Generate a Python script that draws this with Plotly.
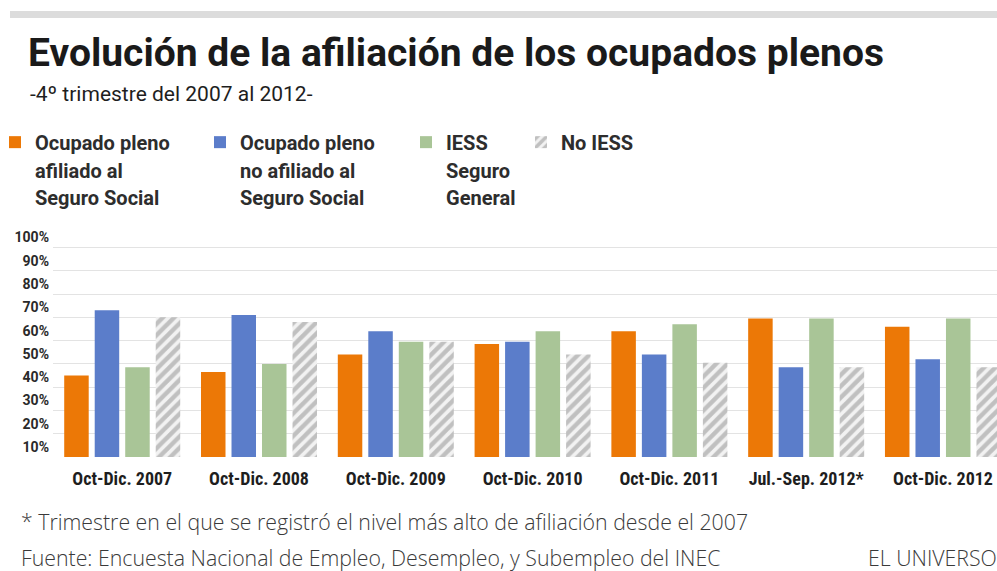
import plotly.graph_objects as go

# ---- data -------------------------------------------------------------
periodos = ["Oct-Dic. 2007", "Oct-Dic. 2008", "Oct-Dic. 2009", "Oct-Dic. 2010",
            "Oct-Dic. 2011", "Jul.-Sep. 2012*", "Oct-Dic. 2012"]
afiliado_ss = [45.0, 46.5, 54.0, 58.5, 64.0, 69.5, 66.0]
no_afiliado_ss = [73.0, 71.0, 64.0, 59.5, 54.0, 48.5, 52.0]
iess_general = [48.5, 50.0, 59.5, 64.0, 67.0, 69.5, 69.5]
no_iess = [70.0, 68.0, 59.5, 54.0, 50.5, 48.5, 48.5]

y_ticks = [10, 20, 30, 40, 50, 60, 70, 80, 90, 100]
y_tick_labels = [f"{v}%" for v in y_ticks]

serie_nombres = [
    ["Ocupado pleno", "afiliado al", "Seguro Social"],
    ["Ocupado pleno", "no afiliado al", "Seguro Social"],
    ["IESS", "Seguro", "General"],
    ["No IESS"],
]

# ---- styling ----------------------------------------------------------
W, H = 997, 571
ML, MR, MT, MB = 53, 0, 235, 114
PW, PH = W - ML - MR, H - MT - MB

SANS = "Roboto, Liberation Sans, sans-serif"
COND = "Roboto Condensed, Liberation Sans Narrow, Roboto, sans-serif"
TEXT = "Open Sans, Lato, sans-serif"
NARANJA, AZUL, VERDE, GRIS = "#EC7806", "#5B7DCA", "#A9C597", "#8E8E8E"


def px_x(x):
    return (x - ML) / PW


def px_y(y):
    return (H - MB - y) / PH


def nombre(lineas):
    return "<br>".join(f'<span style="font-size:20px">{t}</span>' for t in lineas)


fig = go.Figure()
series = [
    (afiliado_ss, dict(color=NARANJA)),
    (no_afiliado_ss, dict(color=AZUL)),
    (iess_general, dict(color=VERDE)),
    (no_iess, dict(color="white",
                   pattern=dict(shape="/", fgcolor=GRIS, bgcolor="#f2f2f2",
                                size=8, solidity=0.55))),
]
legend_ids = ["legend", "legend2", "legend3", "legend4"]
for (vals, marker), lineas, lg in zip(series, serie_nombres, legend_ids):
    fig.add_trace(go.Bar(x=periodos, y=vals, name=nombre(lineas),
                         marker=dict(line=dict(width=0), **marker),
                         legend=lg, hoverinfo="x+y"))

legend_x = [12, 217, 423, 538]
legend_common = dict(
    xref="container", yref="container", yanchor="top", xanchor="left",
    orientation="v", valign="top", bgcolor="rgba(0,0,0,0)",
    font=dict(family=SANS, size=21, color="#2d2d2d", weight="bold"),
    itemwidth=30, tracegroupgap=0, indentation=-10,
)
legends = {}
for lg, lx in zip(legend_ids, legend_x):
    legends[lg] = dict(x=(lx - 7) / W, y=1 - 122 / H, **legend_common)

fig.update_layout(
    template="plotly_white",
    width=W, height=H,
    margin=dict(l=ML, r=MR, t=MT, b=MB, pad=0, autoexpand=False),
    paper_bgcolor="white", plot_bgcolor="white",
    barmode="group", bargap=0.108, bargroupgap=0.197,
    showlegend=True,
    title=dict(text="<b>Evolución de la afiliación de los ocupados plenos</b>",
               font=dict(family=SANS, size=39, color="#1a1a1a"),
               xref="container", yref="container", x=28 / W, xanchor="left",
               y=1 - 52 / H, yanchor="middle", automargin=False),
    xaxis=dict(range=[-0.506, 6.395], showgrid=False, showline=False,
               automargin=False, ticks="", zeroline=False, ticklabelstandoff=9,
               tickfont=dict(family=COND, size=18, color="#1e1e1e", weight="bold")),
    yaxis=dict(range=[10, 10 + PH / 2.328], tickvals=y_ticks, ticktext=y_tick_labels,
               automargin=False, showgrid=True, gridcolor="#e3e3e3", gridwidth=1,
               zeroline=False, showline=False, ticks="", ticklabelshift=-10,
               ticklabelstandoff=3,
               tickfont=dict(family=SANS, size=14, color="#2a2a2a", weight="bold")),
    shapes=[dict(type="rect", xref="paper", yref="paper",
                 x0=px_x(10), x1=px_x(W + 5), y0=px_y(18), y1=px_y(11),
                 fillcolor="#dcdcdc", line=dict(width=0), layer="below")],
    annotations=[
        dict(text="-4º trimestre del 2007 al 2012-", xref="paper", yref="paper",
             x=px_x(28), y=px_y(94), xanchor="left", yanchor="middle", showarrow=False,
             font=dict(family=SANS, size=21, color="#1e1e1e")),
        dict(text="* Trimestre en el que se registró el nivel más alto de afiliación desde el 2007",
             xref="paper", yref="paper", x=px_x(19), y=px_y(521), xanchor="left",
             yanchor="middle", showarrow=False,
             font=dict(family=TEXT, size=21.3, color="#3a3a3a", weight=300)),
        dict(text="Fuente: Encuesta Nacional de Empleo, Desempleo, y Subempleo del INEC",
             xref="paper", yref="paper", x=px_x(19), y=px_y(557), xanchor="left",
             yanchor="middle", showarrow=False,
             font=dict(family=TEXT, size=21.3, color="#3a3a3a", weight=300)),
        dict(text="EL UNIVERSO", xref="paper", yref="paper", x=px_x(866), y=px_y(557),
             xanchor="left", yanchor="middle", showarrow=False,
             font=dict(family=TEXT, size=21.3, color="#3a3a3a", weight=300)),
    ],
    **legends,
)

fig.write_html("out.html")
